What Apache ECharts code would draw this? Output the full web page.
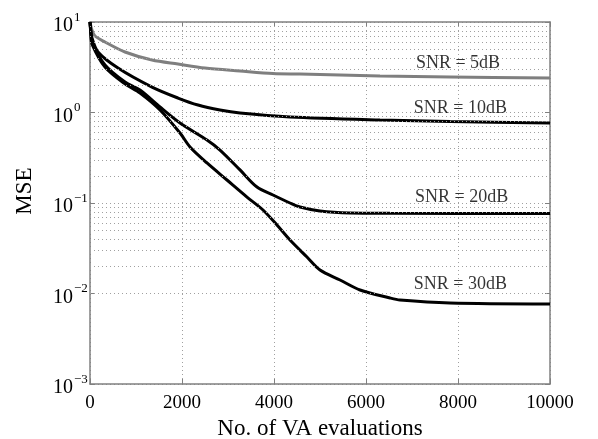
<!DOCTYPE html>
<html>
<head>
<meta charset="utf-8">
<script src="https://cdn.jsdelivr.net/npm/echarts@6/dist/echarts.min.js"></script>
<style>html,body{margin:0;padding:0;background:#fff}#c{width:598px;height:439px}</style>
</head>
<body>
<div id="c"></div>
<script>
// ---- data ----
const xTicks = [0, 2000, 4000, 6000, 8000, 10000];
const yDecades = [0.001, 0.01, 0.1, 1, 10];

const snr5X  = [0, 43, 109, 326, 761, 1348, 1913, 2500, 3261, 3978, 4565, 6304, 7826, 10000];
const snr5Y  = [10, 8.16, 7.0, 6.01, 4.66, 3.80, 3.43, 3.10, 2.88, 2.70, 2.66, 2.53, 2.47, 2.40];

const snr10X = [0, 22, 43, 174, 609, 1348, 1913, 2348, 2826, 3261, 4348, 6304, 7826, 10000];
const snr10Y = [10, 7.75, 6.65, 4.66, 3.10, 1.91, 1.445, 1.21, 1.066, 0.987, 0.892, 0.826, 0.795, 0.766];

const snr20X = [0, 22, 43, 326, 761, 1087, 1522, 1957, 2543, 2826, 3261, 3630, 3978, 4348, 4565, 5000, 5652, 6522, 10000];
const snr20Y = [10, 7.37, 6.01, 3.35, 2.17, 1.77, 1.15, 0.766, 0.497, 0.385, 0.232, 0.150, 0.1225, 0.100, 0.0903, 0.0816, 0.0776, 0.0770, 0.0766];

const snr30X = [0, 22, 43, 326, 761, 1087, 1522, 1957, 2174, 2543, 2978, 3413, 3761, 4065, 4348, 4717, 5000, 5435, 5870, 6522, 6739, 7826, 10000];
const snr30Y = [10, 7.0, 5.71, 3.18, 2.07, 1.64, 1.066, 0.593, 0.416, 0.277, 0.1795, 0.1164, 0.0837, 0.0571, 0.039, 0.0253, 0.0182, 0.0141, 0.01093, 0.00892, 0.00847, 0.00785, 0.00766];

const labelTexts = ['SNR = 5dB', 'SNR = 10dB', 'SNR = 20dB', 'SNR = 30dB'];
const labelX = [8000, 8050, 8080, 8050];
const labelY = [3.5, 1.12, 0.116, 0.0127];

const minorMult = [2, 3, 4, 5, 6, 7, 8, 9];

// ---- build ----
function zip(a, b) { return a.map((v, i) => [v, b[i]]); }
const minorVals = [];
for (let k = 0; k < yDecades.length - 1; k++) {
  for (const m of minorMult) minorVals.push(+(yDecades[k] * m).toPrecision(3));
}

const serif = 'Liberation Serif';
const gridColor = '#a0a0a0';
const axisColor = '#808080';

const seriesDefs = [
  { x: snr5X,  y: snr5Y,  color: '#7f7f7f' },
  { x: snr10X, y: snr10Y, color: '#000000' },
  { x: snr20X, y: snr20Y, color: '#000000' },
  { x: snr30X, y: snr30Y, color: '#000000' }
];

const series = [{
  type: 'line', data: [], z: 1, silent: true,
  markLine: {
    silent: true, symbol: 'none', animation: false,
    label: { show: false },
    lineStyle: { color: gridColor, type: [1, 3], width: 1 },
    data: minorVals.map(v => ({ yAxis: v }))
  }
}];
seriesDefs.forEach((s, i) => {
  series.push({
    type: 'line', data: zip(s.x, s.y), showSymbol: false, symbol: 'none', z: 3,
    smooth: 0.3,
    lineStyle: { color: s.color, width: 3 },
    animation: false
  });
});
series.push({
  type: 'scatter', z: 5, symbolSize: 0, silent: true, animation: false,
  data: labelTexts.map((t, i) => ({ value: [labelX[i], labelY[i]], name: t })),
  label: {
    show: true, position: 'inside', formatter: p => p.name,
    fontFamily: serif, fontSize: 18, color: '#000'
  }
});

const option = {
  backgroundColor: '#fff',
  animation: false,
  grid: { left: 90, right: 48, top: 22, bottom: 55, containLabel: false, outerBoundsMode: 'none' },
  xAxis: [{
    type: 'value', min: xTicks[0], max: xTicks[xTicks.length - 1], interval: 2000,
    name: 'No. of VA evaluations', nameLocation: 'middle', nameGap: 30,
    nameTextStyle: { fontFamily: serif, fontSize: 23, color: '#000' },
    axisLine: { show: true, lineStyle: { color: axisColor, width: 1.5 } },
    axisTick: { show: true, inside: true, length: 5, lineStyle: { color: axisColor } },
    axisLabel: { fontFamily: serif, fontSize: 19, color: '#000', margin: 10, formatter: v => String(v) },
    splitLine: { show: true, lineStyle: { color: gridColor, type: [1, 3], width: 1 } }
  }, {
    type: 'value', position: 'top', min: 0, max: 10000, interval: 2000,
    axisLine: { show: true, onZero: false, lineStyle: { color: axisColor, width: 1.5 } },
    axisTick: { show: true, inside: true, length: 5, lineStyle: { color: axisColor } },
    axisLabel: { show: false }, splitLine: { show: false }
  }],
  yAxis: [{
    type: 'log', logBase: 10, min: yDecades[0], max: yDecades[yDecades.length - 1],
    name: 'MSE', nameLocation: 'middle', nameGap: 54, nameRotate: 90,
    nameTextStyle: { fontFamily: serif, fontSize: 23, color: '#000', padding: [0, 0, 0, 24] },
    axisLine: { show: true, lineStyle: { color: axisColor, width: 1.5 } },
    axisTick: { show: true, inside: true, length: 5, lineStyle: { color: axisColor } },
    axisLabel: {
      margin: 37, align: 'left',
      formatter: v => {
        const e = Math.round(Math.log10(v));
        return '{b|10}{e|' + (e < 0 ? '\u2212' + (-e) : e) + '}';
      },
      rich: {
        b: { fontFamily: serif, fontSize: 20, color: '#000', padding: [8, 0, 0, 0] },
        e: { fontFamily: serif, fontSize: 13, color: '#000', padding: [0, 0, 9, 1] }
      }
    },
    splitLine: { show: true, lineStyle: { color: gridColor, type: [1, 3], width: 1 } }
  }, {
    type: 'log', logBase: 10, min: 0.001, max: 10, position: 'right',
    axisLine: { show: true, onZero: false, lineStyle: { color: axisColor, width: 1.5 } },
    axisTick: { show: true, inside: true, length: 5, lineStyle: { color: axisColor } },
    axisLabel: { show: false }, splitLine: { show: false }
  }],
  series: series
};

const chart = echarts.init(document.getElementById('c'), null, { renderer: 'canvas' });
chart.setOption(option);
</script>
</body>
</html>
